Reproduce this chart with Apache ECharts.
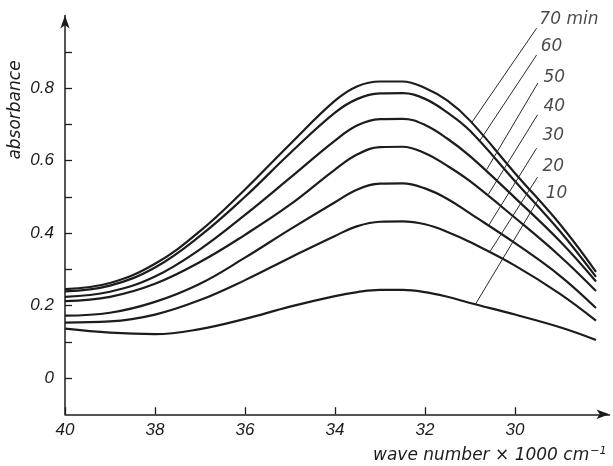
<!DOCTYPE html>
<html><head><meta charset="utf-8">
<script src="https://cdn.jsdelivr.net/npm/echarts@6/dist/echarts.min.js"></script>
<style>html,body{margin:0;padding:0;background:#fff}#c{width:613px;height:466px}</style>
</head><body><div id="c"></div>
<script>
// wave number (×1000 cm^-1)
const waveNumbers = [40, 39, 38, 37, 36, 35, 34, 33.5, 33, 32.5, 32, 31.5, 31, 30, 29, 28.2];
const curveLabels = ['10', '20', '30', '40', '50', '60', '70 min'];
// absorbance after each reaction time
const abs10 = [0.136, 0.125, 0.121, 0.135, 0.163, 0.197, 0.226, 0.237, 0.243, 0.243, 0.237, 0.224, 0.207, 0.175, 0.140, 0.105];
const abs20 = [0.153, 0.156, 0.175, 0.215, 0.270, 0.332, 0.392, 0.419, 0.431, 0.432, 0.424, 0.403, 0.375, 0.310, 0.232, 0.158];
const abs30 = [0.172, 0.180, 0.210, 0.260, 0.332, 0.410, 0.485, 0.520, 0.536, 0.537, 0.523, 0.494, 0.454, 0.372, 0.282, 0.193];
const abs40 = [0.212, 0.224, 0.260, 0.320, 0.395, 0.478, 0.575, 0.617, 0.637, 0.638, 0.620, 0.585, 0.543, 0.442, 0.336, 0.240];
const abs50 = [0.224, 0.238, 0.280, 0.355, 0.450, 0.552, 0.655, 0.697, 0.714, 0.715, 0.698, 0.660, 0.612, 0.497, 0.377, 0.266];
const abs60 = [0.239, 0.255, 0.305, 0.392, 0.500, 0.620, 0.732, 0.770, 0.785, 0.786, 0.770, 0.732, 0.682, 0.543, 0.405, 0.279];
const abs70 = [0.245, 0.262, 0.315, 0.405, 0.520, 0.645, 0.765, 0.805, 0.818, 0.818, 0.800, 0.765, 0.710, 0.565, 0.424, 0.293];
const allCurves = [abs10, abs20, abs30, abs40, abs50, abs60, abs70];
// leader lines: point on curve -> point under label
const leaderCurveX = [30.89, 30.56, 30.59, 30.59, 30.63, 30.78, 30.96];
const leaderCurveY = [0.201, 0.348, 0.420, 0.507, 0.575, 0.655, 0.705];
const leaderTopX = [29.49, 29.50, 29.52, 29.50, 29.49, 29.52, 29.52];
const leaderTopY = [0.491, 0.554, 0.634, 0.726, 0.814, 0.891, 0.965];
const labelX = [29.33, 29.40, 29.40, 29.38, 29.38, 29.44, 29.47];
const labelY = [0.510, 0.582, 0.670, 0.750, 0.828, 0.913, 0.988];
// axis ticks
const xTickValues = [30, 32, 34, 36, 38, 40];
const yTickValues = [0, 0.1, 0.2, 0.3, 0.4, 0.5, 0.6, 0.7, 0.8, 0.9];
const yLabelValues = [0, 0.2, 0.4, 0.6, 0.8];

const ink = '#1c1c1c';
const numFont = 'Liberation Sans';
const txtFont = 'DejaVu Sans';

const chart = echarts.init(document.getElementById('c'), null, {renderer: 'canvas'});
const series = allCurves.map((vals, i) => ({
  type: 'line',
  name: curveLabels[i],
  data: waveNumbers.map((w, j) => [w, vals[j]]),
  smooth: 0.4,
  symbol: 'none',
  lineStyle: {color: ink, width: 2.2},
  animation: false,
  markLine: {
    silent: true,
    symbol: ['none', 'none'],
    label: {show: false},
    lineStyle: {color: '#2a2a2a', width: 1, type: 'solid'},
    animation: false,
    data: [[{coord: [leaderCurveX[i], leaderCurveY[i]]}, {coord: [leaderTopX[i], leaderTopY[i]]}]]
  }
}));
series.push({
  type: 'scatter',
  data: curveLabels.map((t, i) => [labelX[i], labelY[i], t]),
  symbolSize: 1,
  itemStyle: {color: 'rgba(0,0,0,0)'},
  animation: false,
  label: {
    show: true, position: 'right', distance: 0,
    formatter: p => p.data[2],
    fontFamily: txtFont, fontStyle: 'italic', fontSize: 17, color: ink
  }
});

chart.setOption({
  backgroundColor: '#ffffff',
  animation: false,
  grid: {left: 65, right: 3.5, top: 15.5, bottom: 51.75, containLabel: false},
  xAxis: {
    type: 'value', inverse: true, min: 27.9, max: 40,
    axisLine: {show: true, onZero: false, symbol: ['none', 'arrow'], symbolSize: [7, 13],
      lineStyle: {color: ink, width: 1.5}},
    axisTick: {show: true, inside: true, length: 7, customValues: xTickValues,
      lineStyle: {color: ink, width: 1.3}},
    axisLabel: {customValues: xTickValues, fontFamily: numFont, fontStyle: 'italic',
      fontSize: 17, color: ink, margin: 8},
    splitLine: {show: false}
  },
  yAxis: {
    type: 'value', min: -0.1, max: 1.0,
    axisLine: {show: true, onZero: false, symbol: ['none', 'arrow'], symbolSize: [7, 13],
      lineStyle: {color: ink, width: 1.5}},
    axisTick: {show: true, inside: true, length: 7, customValues: yTickValues,
      lineStyle: {color: ink, width: 1.3}},
    axisLabel: {customValues: yLabelValues, fontFamily: numFont, fontStyle: 'italic',
      fontSize: 17, color: ink, margin: 11,
      formatter: v => (Math.abs(v) < 1e-9 ? '0' : v.toFixed(1))},
    splitLine: {show: false}
  },
  graphic: [
    {type: 'text', x: 16, y: 110, rotation: Math.PI / 2,
      style: {text: 'absorbance', font: 'italic 17px "DejaVu Sans"', fill: ink,
        align: 'center', verticalAlign: 'middle'}},
    {type: 'text', x: 373, y: 456,
      style: {text: '{a|wave number × 1000 cm}{s|−1}', fill: ink, align: 'left', verticalAlign: 'middle',
        rich: {a: {fontFamily: txtFont, fontStyle: 'italic', fontSize: 17, lineHeight: 20, color: ink},
               s: {fontFamily: txtFont, fontStyle: 'italic', fontSize: 11, lineHeight: 20, color: ink,
                   verticalAlign: 'top', padding: [0, 0, 6, 1]}}}}
  ],
  series: series
});
</script></body></html>
